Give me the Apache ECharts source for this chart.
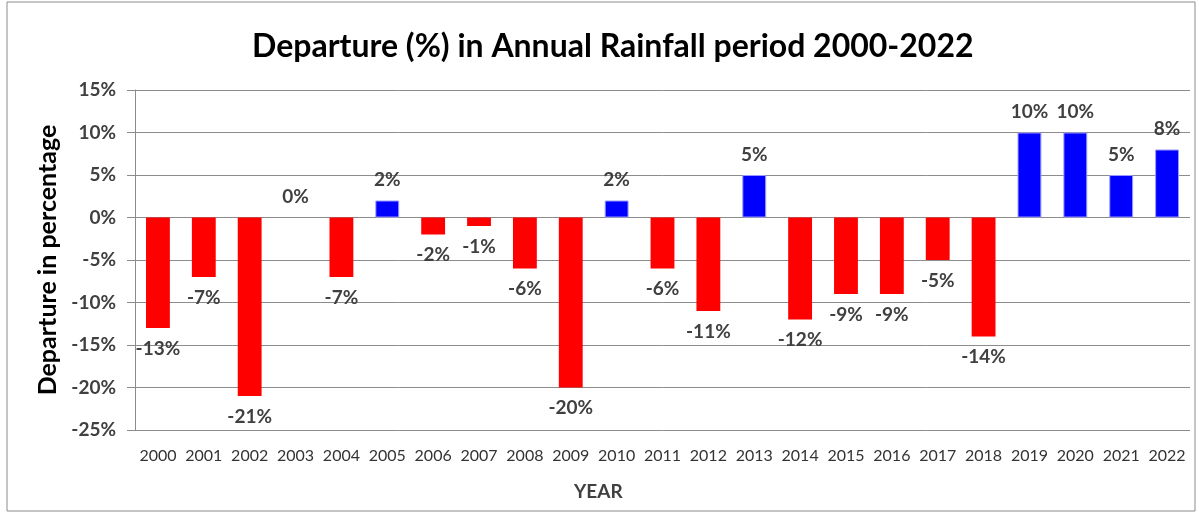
<!DOCTYPE html>
<html><head><meta charset="utf-8">
<script src="https://cdn.jsdelivr.net/npm/echarts@6/dist/echarts.min.js"></script>
<style>html,body{margin:0;padding:0;background:#fff}#c{width:1199px;height:515px}</style>
</head><body><div id="c"></div>
<script>
const years = ['2000','2001','2002','2003','2004','2005','2006','2007','2008','2009','2010','2011','2012','2013','2014','2015','2016','2017','2018','2019','2020','2021','2022'];
const departure = [-13,-7,-21,0,-7,2,-2,-1,-6,-20,2,-6,-11,5,-12,-9,-9,-5,-14,10,10,5,8];
const yTicks = {min:-25, max:15, interval:5};

const FONT = 'Lato';
const chart = echarts.init(document.getElementById('c'));
chart.setOption({
  animation:false,
  backgroundColor:'#fff',
  title:{text:'Departure (%) in Annual Rainfall period 2000-2022', left:247, top:26,
    textStyle:{fontFamily:FONT, fontWeight:'bold', fontSize:32, color:'#000'}},
  graphic:[
    {type:'rect', shape:{x:7,y:2,width:1188,height:509}, style:{fill:'none', stroke:'#8c8c8c', lineWidth:1}, silent:true},
    {type:'text', left:574, top:482, style:{text:'YEAR', fontFamily:FONT, fontWeight:'bold', fontSize:19, fill:'#404040'}}
  ],
  grid:{left:135, right:9, top:90, bottom:85},
  xAxis:{type:'category', data:years,
    axisLine:{show:false}, axisTick:{show:false},
    axisLabel:{interval:0, fontFamily:FONT, fontSize:16, color:'#333', margin:18}},
  yAxis:{type:'value', min:yTicks.min, max:yTicks.max, interval:yTicks.interval,
    name:'Departure in percentage', nameLocation:'middle', nameGap:70,
    nameTextStyle:{fontFamily:FONT, fontWeight:'bold', fontSize:25, color:'#000'},
    axisLine:{show:true, lineStyle:{color:'#8c8c8c'}},
    axisTick:{show:true, length:8, lineStyle:{color:'#8c8c8c'}},
    axisLabel:{formatter:'{value}%', fontFamily:FONT, fontWeight:'bold', fontSize:19, color:'#404040', margin:19},
    splitLine:{lineStyle:{color:'#8c8c8c', width:1}}},
  series:[{
    type:'bar', barWidth:'52%',
    data:departure.map(v=>({value:v,
      itemStyle:{color: v>0 ? '#0000ff' : '#ff0000', borderColor: v>0 ? '#9999ff' : '#ff0000', borderWidth: v>0?1:0},
      label:{position: v>=0 ? 'top' : 'bottom'}})),
    label:{show:true, formatter:'{c}%', distance:11, fontFamily:FONT, fontWeight:'bold', fontSize:19, color:'#404040'}
  }]
});
</script></body></html>
